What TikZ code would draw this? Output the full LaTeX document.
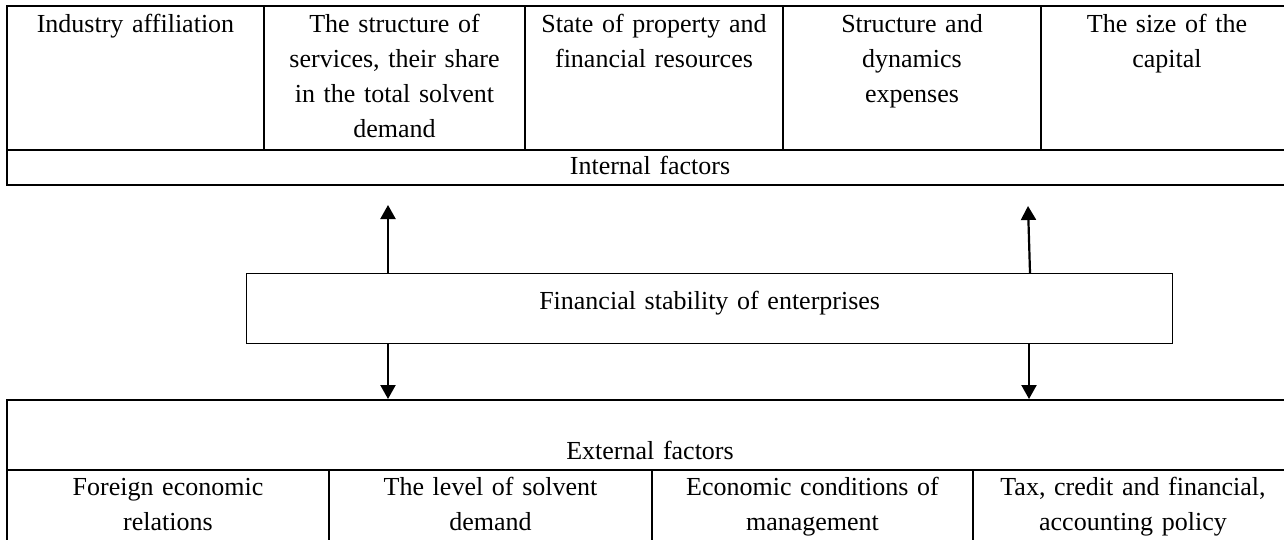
\documentclass[tikz,border=0pt]{standalone}
\usepackage{fontspec}
\setmainfont{Liberation Serif}
\usetikzlibrary{arrows.meta}
\begin{document}
\begin{tikzpicture}[x=1pt,y=-1pt,
  cell/.style={draw, line width=2pt, rectangle, inner sep=0pt, anchor=north west},
  midbox/.style={draw, line width=1.3pt, rectangle, inner sep=0pt, anchor=north west},
  txt/.style={font=\fontsize{26}{35}\selectfont, text width=310pt, align=center, inner sep=0pt, anchor=base},
  arr/.style={line width=2.2pt, -{Triangle[width=15pt,length=14pt]}}]
\useasboundingbox (0,0) rectangle (1284,540);
\clip (0,0) rectangle (1284,540);
\fill[white] (0,0) rectangle (1284,540);
% internal factors table
\node[cell, minimum width=257pt, minimum height=144pt] (t1) at (6,5) {};
\node[cell, minimum width=261pt, minimum height=144pt] (t2) at (263,5) {};
\node[cell, minimum width=258pt, minimum height=144pt] (t3) at (524,5) {};
\node[cell, minimum width=258pt, minimum height=144pt] (t4) at (782,5) {};
\node[cell, minimum width=252pt, minimum height=144pt] (t5) at (1040,5) {};
\node[cell, minimum width=1286pt, minimum height=35pt] (irow) at (6,149) {};
\node[txt] (t1x) at (t1.center |- 0,33) {Industry affiliation};
\node[txt] (t2x) at (t2.center |- 0,33) {The structure of\\services, their share\\in the total solvent\\demand};
\node[txt] (t3x) at (t3.center |- 0,33) {State of property and\\financial resources};
\node[txt] (t4x) at (t4.center |- 0,33) {Structure and\\dynamics\\expenses};
\node[txt] (t5x) at (t5.center |- 0,33) {The size of the\\capital};
\node[txt] (irowx) at (irow.center |- 0,175) {Internal factors};
% central box
\node[midbox, minimum width=926pt, minimum height=70pt] (mid) at (246,273) {};
\node[txt, text width=600pt] (midx) at (mid.center |- 0,309) {Financial stability of enterprises};
% external factors table
\node[cell, minimum width=1286pt, minimum height=70pt] (erow) at (6,399) {};
\node[cell, minimum width=322pt, minimum height=90pt] (b1) at (6,469) {};
\node[cell, minimum width=323pt, minimum height=90pt] (b2) at (328,469) {};
\node[cell, minimum width=321pt, minimum height=90pt] (b3) at (651,469) {};
\node[cell, minimum width=320pt, minimum height=90pt] (b4) at (972,469) {};
\node[txt] (erowx) at (erow.center |- 0,459) {External factors};
\node[txt] (b1x) at (b1.center |- 0,495) {Foreign economic\\relations};
\node[txt] (b2x) at (b2.center |- 0,495) {The level of solvent\\demand};
\node[txt] (b3x) at (b3.center |- 0,495) {Economic conditions of\\management};
\node[txt] (b4x) at (b4.center |- 0,495) {Tax, credit and financial,\\accounting policy};
% arrows
\draw[arr] (mid.north -| 388,0) -- ([yshift=-19pt]irow.south -| 388,0);
\draw[arr] (mid.north -| 1030,0) -- ([yshift=-20pt]irow.south -| 1028,0);
\draw[arr] (mid.south -| 388,0) -- (erow.north -| 388,0);
\draw[arr] (mid.south -| 1029,0) -- (erow.north -| 1029,0);
\end{tikzpicture}
\end{document}
